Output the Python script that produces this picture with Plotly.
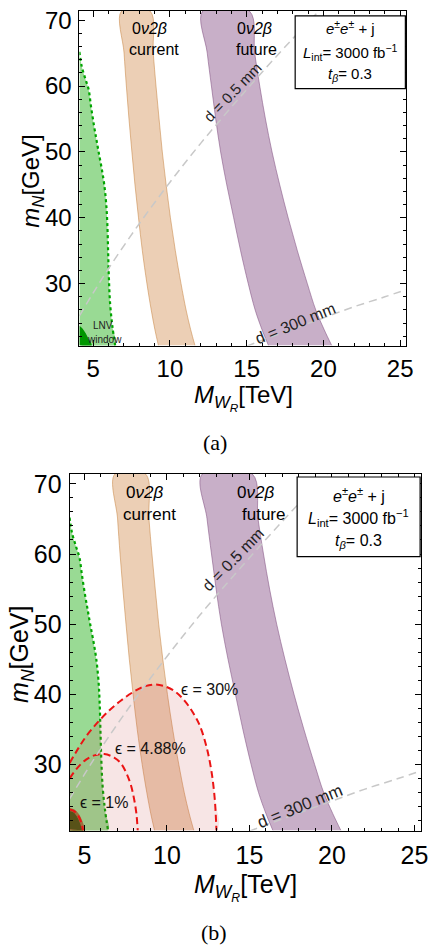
import plotly.graph_objects as go

W, H = 435, 950
X_RANGE = [4.1, 25.4]
Y_RANGE = [20.6, 71.4]

# 0v2b bands: edges (M_WR in TeV) at given m_N (GeV)
m_band = [20.6, 23, 26, 30, 35, 40, 45, 50, 55, 60, 65, 71.4]
current_lo = [9.25, 9.02, 8.78, 8.5, 8.2, 7.95, 7.72, 7.52, 7.33, 7.16, 7.01, 6.85]
current_hi = [11.63, 11.35, 11.05, 10.72, 10.35, 10.03, 9.75, 9.5, 9.29, 9.09, 8.91, 8.7]
future_lo = [16.42, 16.0, 15.55, 15.1, 14.6, 14.15, 13.7, 13.3, 12.98, 12.7, 12.43, 12.14]
future_hi = [20.54, 20.05, 19.5, 18.95, 18.3, 17.7, 17.15, 16.65, 16.22, 15.85, 15.52, 15.17]

# LNV window boundary
lnv_M = [4.1, 4.25, 4.5, 4.7, 4.85, 5.05, 5.2, 5.35, 5.55, 5.72, 5.85, 5.92, 5.97, 6.02, 6.1, 6.25, 6.43]
lnv_m = [65.2, 63, 61, 59.5, 57, 54, 52, 50, 47.5, 45, 42, 39, 35, 31, 27, 23.5, 20.6]
core_M = [4.1, 4.3, 4.5, 4.7, 4.9]
core_m = [23.6, 23.2, 22.5, 21.6, 20.6]

# decay-length contours
d05_M = [4.1, 5, 6, 8, 10, 12, 14, 16, 18, 20]
d05_m = [25.1, 28.6, 32.3, 39.1, 45.4, 51.3, 56.8, 62.1, 67.2, 72.1]
d300_M = [15, 16, 18, 20, 22, 24, 25.4]
d300_m = [20.5, 21.4, 23.1, 24.8, 26.5, 28.0, 29.1]

# efficiency contours (panel b)
eff30_M = [4.1, 4.6, 5.1, 5.8, 6.5, 7.2, 8.0, 8.6, 9.2, 9.8, 10.5, 11.1, 11.6, 12.0, 12.4, 12.7, 12.9, 13.0]
eff30_m = [30.2, 32.2, 34.0, 36.0, 37.7, 39.1, 40.4, 41.1, 41.4, 41.2, 40.4, 39.0, 37.3, 35.5, 32.5, 29.0, 25.0, 20.6]
eff488_M = [4.1, 4.6, 5.1, 5.6, 6.2, 6.8, 7.2, 7.5, 7.8, 8.0, 8.15, 8.23]
eff488_m = [28.0, 29.6, 30.7, 31.3, 31.5, 31.0, 30.2, 29.0, 27.2, 25.2, 23.0, 20.6]
eff1_M = [4.1, 4.35, 4.6, 4.8, 4.92]
eff1_m = [23.6, 23.4, 22.8, 21.8, 20.6]

x_ticks = [5, 10, 15, 20, 25]
y_ticks = [30, 40, 50, 60, 70]

SANS = "Liberation Sans"
SERIF = "Liberation Serif"

fig = go.Figure()


def band(lo, hi):
    return lo + hi[::-1], m_band + m_band[::-1]


def add_panel(xa, ya, with_eff):
    kw = dict(xaxis=xa, yaxis=ya, showlegend=False, hoverinfo="skip")
    # LNV window
    fig.add_trace(go.Scatter(x=lnv_M + [X_RANGE[0]], y=lnv_m + [Y_RANGE[0]], fill="toself",
                             fillcolor="rgba(60,185,50,0.52)", line=dict(width=0), mode="lines",
                             line_shape="spline", **kw))
    fig.add_trace(go.Scatter(x=core_M + [X_RANGE[0]], y=core_m + [Y_RANGE[0]], fill="toself",
                             fillcolor="rgb(0,150,0)", line=dict(width=0), mode="lines",
                             line_shape="spline", **kw))
    fig.add_trace(go.Scatter(x=lnv_M, y=lnv_m, mode="lines", line_shape="spline",
                             line=dict(color="rgb(0,165,0)", width=2.2, dash="dot"), **kw))
    # 0v2b bands
    bx, by = band(current_lo, current_hi)
    fig.add_trace(go.Scatter(x=bx, y=by, fill="toself", fillcolor="rgba(205,130,60,0.38)",
                             mode="lines", line=dict(color="rgba(200,135,70,0.55)", width=1),
                             line_shape="spline", **kw))
    bx, by = band(future_lo, future_hi)
    fig.add_trace(go.Scatter(x=bx, y=by, fill="toself", fillcolor="rgba(125,65,125,0.42)",
                             mode="lines", line=dict(color="rgba(130,80,130,0.55)", width=1),
                             line_shape="spline", **kw))
    if with_eff:
        fig.add_trace(go.Scatter(x=eff30_M + [X_RANGE[0]], y=eff30_m + [Y_RANGE[0]], fill="toself",
                                 fillcolor="rgba(200,70,70,0.14)", mode="lines", line=dict(width=0),
                                 line_shape="spline", **kw))
        fig.add_trace(go.Scatter(x=eff1_M + [X_RANGE[0]], y=eff1_m + [Y_RANGE[0]], fill="toself",
                                 fillcolor="rgb(88,82,24)", mode="lines",
                                 line=dict(color="rgb(160,110,60)", width=3),
                                 line_shape="spline", **kw))
        for xs, ys in [(eff30_M, eff30_m), (eff488_M, eff488_m), (eff1_M, eff1_m)]:
            fig.add_trace(go.Scatter(x=xs, y=ys, mode="lines", line_shape="spline",
                                     line=dict(color="rgb(235,20,20)", width=2, dash="7px,4px"), **kw))
    # decay length lines
    for xs, ys in [(d05_M, d05_m), (d300_M, d300_m)]:
        fig.add_trace(go.Scatter(x=xs, y=ys, mode="lines", line_shape="spline",
                                 line=dict(color="rgb(200,200,200)", width=1.5, dash="8px,5px"), **kw))


add_panel("x", "y", False)
add_panel("x2", "y2", True)


def px(x, y):
    return x / W, 1 - y / H


def axis(domain, anchor, rng, ticks, minor0, minordt, fsize):
    return dict(domain=domain, anchor=anchor, range=rng, tickvals=ticks,
                showgrid=False, zeroline=False, showline=True, linecolor="black", linewidth=1,
                mirror="allticks", ticks="inside", ticklen=6, tickwidth=1, tickcolor="black",
                minor=dict(tick0=minor0, dtick=minordt, ticks="inside", ticklen=3,
                           tickcolor="black", tickwidth=1, showgrid=False),
                tickfont=dict(family=SANS, size=fsize, color="black"),
                ticklabeloverflow="allow", ticklabelstandoff=2)


fig.update_layout(
    width=W, height=H, margin=dict(l=0, r=0, t=0, b=0),
    paper_bgcolor="white", plot_bgcolor="white",
    xaxis=axis([80.7 / W, 413 / W], "y", X_RANGE, x_ticks, 4, 1, 24),
    yaxis=axis([1 - 343 / H, 1 - 7 / H], "x", Y_RANGE, y_ticks, 20, 2, 24),
    xaxis2=axis([70.7 / W, 428 / W], "y2", X_RANGE, x_ticks, 4, 1, 25),
    yaxis2=axis([1 - 830 / H, 1 - 472 / H], "x2", Y_RANGE, y_ticks, 20, 2, 25),
)

ann = []


def text(x, y, t, size, family=SANS, angle=0, color="black"):
    xp, yp = px(x, y)
    ann.append(dict(x=xp, y=yp, xref="paper", yref="paper", text=t, showarrow=False,
                    font=dict(family=family, size=size, color=color), textangle=angle,
                    xanchor="center", yanchor="middle"))


shapes = []


def box(x0, y0, x1, y1):
    a0, b0 = px(x0, y0)
    a1, b1 = px(x1, y1)
    shapes.append(dict(type="rect", xref="paper", yref="paper", x0=a0, x1=a1, y0=b1, y1=b0,
                       line=dict(color="black", width=1.2), fillcolor="white", layer="above"))


XT = "<i>M</i><sub><i>W</i><sub><i>R</i></sub></sub>[TeV]"
YT = "<i>m</i><sub><i>N</i></sub>[GeV]"
NU = "0<i>ν</i><i>2β</i>"

# panel a
text(247, 395, XT, 24)
text(33, 178, YT, 24, angle=-90)
text(152, 25, NU, 16)
text(157, 46, "current", 16)
text(259, 25, NU, 16)
text(261, 46, "future", 16)
text(236, 89, "d = 0.5 mm", 15, angle=-46, color="#222")
text(300, 321, "d = 300 mm", 16, angle=-22, color="#222")
text(105, 323, "LNV", 10, color="#222")
text(106, 337, "window", 10, color="#222")
box(300, 12, 412, 85)
text(356, 24, "<i>e</i><sup>±</sup><i>e</i><sup>±</sup> + j", 15)
text(356, 49, "<i>L</i><sub>int</sub>= 3000 fb<sup>−1</sup>", 15)
text(356, 71, "<i>t</i><sub><i>β</i></sub>= 0.3", 15)
text(219, 440, "(a)", 22, family=SERIF)

# panel b
text(250, 887, XT, 25)
text(22, 653, YT, 25, angle=-90)
text(147, 491, NU, 17)
text(152, 513, "current", 17)
text(260, 491, NU, 17)
text(268, 513, "future", 17)
text(237, 558, "d = 0.5 mm", 16, angle=-46, color="#222")
text(305, 806, "d = 300 mm", 17, angle=-22, color="#222")
box(302, 475, 427, 555)
text(364.5, 493, "<i>e</i><sup>±</sup><i>e</i><sup>±</sup> + j", 16)
text(364.5, 516, "<i>L</i><sub>int</sub>= 3000 fb<sup>−1</sup>", 16)
text(364.5, 540, "<i>t</i><sub><i>β</i></sub>= 0.3", 16)
text(213, 688, "ϵ = 30%", 16, color="#111")
text(152.5, 748, "ϵ = 4.88%", 16, color="#111")
text(106, 802, "ϵ = 1%", 16, color="#111")
text(218, 932, "(b)", 22, family=SERIF)

fig.update_layout(annotations=ann, shapes=shapes)
fig.write_html("out.html", config={"displayModeBar": False},
               post_script="document.body.style.margin='0px';document.body.style.overflow='hidden';")
